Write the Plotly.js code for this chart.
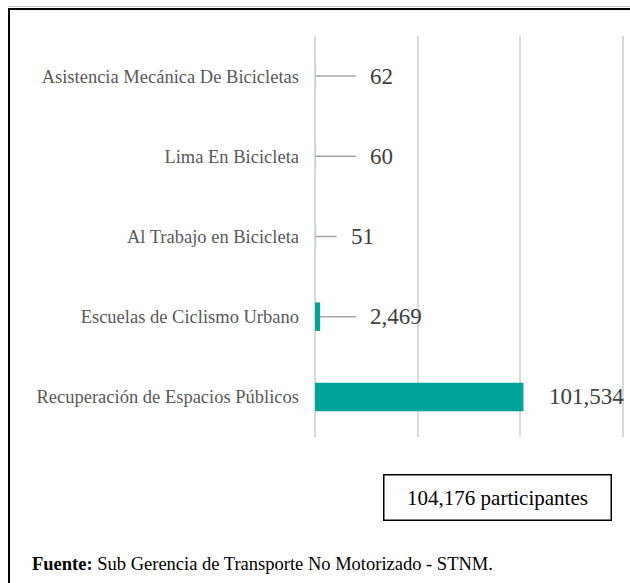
<!DOCTYPE html>
<html>
<head>
<meta charset="utf-8">
<script src="https://cdn.plot.ly/plotly-3.0.1.min.js"></script>
<style>
  html, body { margin: 0; padding: 0; background: #fff; }
  #wrap { position: relative; width: 630px; height: 583px; overflow: hidden; }
  #chart { position: absolute; left: 0; top: 0; width: 630px; height: 583px; }
  #frame { position: absolute; left: 8px; top: 8px; width: 640px; height: 600px;
           border-left: 2.5px solid #000; border-top: 2px solid #000; pointer-events: none; }
  #frame2 { position: absolute; left: 8px; top: 6px; width: 640px; height: 1px;
            background: #c8c8c8; pointer-events: none; }
</style>
</head>
<body>
<div id="wrap">
  <div id="chart"></div>
  <div id="frame2"></div>
  <div id="frame"></div>
</div>
<script>
// ---- data ----
const categories = [
  "Asistencia Mecánica De Bicicletas",
  "Lima En Bicicleta",
  "Al Trabajo en Bicicleta",
  "Escuelas de Ciclismo Urbano",
  "Recuperación de Espacios Públicos"
];
const participants = [62, 60, 51, 2469, 101534];
const totalLabel = "participantes";
const sourceBold = "Fuente:";
const sourceText = "Sub Gerencia de Transporte No Motorizado - STNM.";

// ---- layout constants (styles / positions) ----
const W = 630, H = 583;
const M = { l: 314, r: 6, t: 36, b: 146 };
const FONT = 'Liberation Serif, Times New Roman, serif';
const labelOffset = [66, 66, 47, 76, 63];   // pixel offset of each value label
const showLeader = [true, true, true, true, false];

const plotW = W - M.l - M.r, plotH = H - M.t - M.b;
const px2x = px => (px - M.l) / plotW;
const px2y = py => (H - M.b - py) / plotH;

const fmt = v => v.toLocaleString('en-US');
const total = participants.reduce((a, b) => a + b, 0);

const trace = {
  type: 'bar',
  orientation: 'h',
  x: participants,
  y: categories,
  width: 0.355,
  marker: { color: '#00A39A' },
  hoverinfo: 'none'
};

const annotations = participants.map((v, i) => ({
  x: v, y: categories[i], xref: 'x', yref: 'y',
  text: fmt(v),
  font: { family: FONT, size: 23, color: '#404040' },
  showarrow: showLeader[i],
  arrowhead: 0, arrowwidth: 1.5, arrowcolor: '#A6A6A6',
  ax: labelOffset[i], ay: 0, axref: 'pixel', ayref: 'pixel',
  xshift: showLeader[i] ? 0 : labelOffset[i],
  xanchor: 'center', yanchor: 'middle',
  borderwidth: 0, borderpad: 14, standoff: 0
}));

annotations.push({
  xref: 'paper', yref: 'paper',
  x: px2x(497.5), y: px2y(497.5),
  xanchor: 'center', yanchor: 'middle',
  text: fmt(total) + ' ' + totalLabel,
  showarrow: false,
  font: { family: FONT, size: 21, color: '#000' },
  bordercolor: '#000', borderwidth: 1.5, borderpad: 0,
  width: 226, height: 44
});

annotations.push({
  xref: 'paper', yref: 'paper',
  x: px2x(30), y: px2y(564),
  xanchor: 'left', yanchor: 'middle',
  text: '<b>' + sourceBold + '</b> ' + sourceText,
  showarrow: false,
  font: { family: FONT, size: 18.5, color: '#000' }
});

const layout = {
  width: W, height: H,
  margin: M,
  paper_bgcolor: '#fff', plot_bgcolor: '#fff',
  showlegend: false,
  xaxis: {
    range: [-500, 150500], dtick: 50000, tick0: 0,
    showgrid: true, gridcolor: '#D9D9D9', gridwidth: 2,
    zeroline: false, showticklabels: false, ticks: '', showline: false,
    fixedrange: true
  },
  yaxis: {
    type: 'category', categoryorder: 'array', categoryarray: categories,
    autorange: 'reversed',
    showgrid: false, zeroline: false, showline: false, ticks: '',
    ticklabelstandoff: 14,
    tickfont: { family: FONT, size: 18.5, color: '#595959' },
    fixedrange: true
  },
  annotations: annotations,
  font: { family: FONT }
};

Plotly.newPlot('chart', [trace], layout, { displayModeBar: false, staticPlot: true });
</script>
</body>
</html>
